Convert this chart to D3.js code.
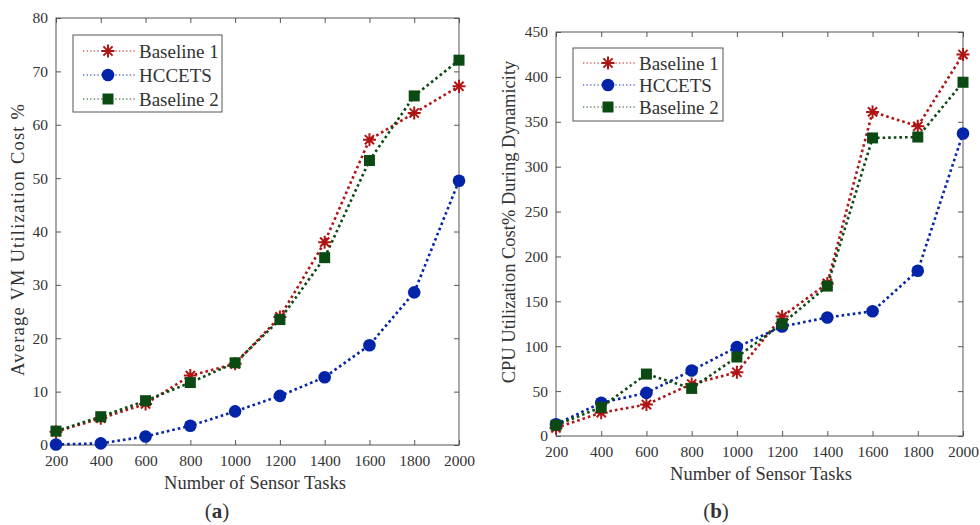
<!DOCTYPE html>
<html><head><meta charset="utf-8">
<script src="https://cdn.jsdelivr.net/npm/d3@7"></script>
<style>
body{margin:0;background:#fff;}
svg text{font-family:"Liberation Serif","DejaVu Serif",serif;fill:#333;}
</style></head>
<body><svg id="c" width="980" height="525"></svg>
<script>
const tasks = [200,400,600,800,1000,1200,1400,1600,1800,2000];
const xTicks = [200,400,600,800,1000,1200,1400,1600,1800,2000];
const seriesNames = ["Baseline 1","HCCETS","Baseline 2"];
const seriesColors = ["#b01515","#0324a8","#0b4a12"];
const seriesMarkers = ["asterisk","circle","square"];
// Chart (a): Average VM Utilization Cost %
const vmBaseline1 = [2.5,5.0,7.7,13.0,15.2,24.0,38.0,57.2,62.2,67.2];
const vmHCCETS    = [0.1,0.3,1.6,3.6,6.3,9.2,12.7,18.7,28.6,49.5];
const vmBaseline2 = [2.6,5.3,8.3,11.7,15.4,23.5,35.1,53.3,65.4,72.1];
const vmYTicks = [0,10,20,30,40,50,60,70,80];
// Chart (b): CPU Utilization Cost% During Dynamicity
const cpuBaseline1 = [9,26,35,58,71,133,170,361,345,425];
const cpuHCCETS    = [13,37,48,73,99,122,132,139,184,337];
const cpuBaseline2 = [12,32,69,53,88,125,167,332,333,394];
const cpuYTicks = [0,50,100,150,200,250,300,350,400,450];

const svg = d3.select("#c");

function marker(g, type, color, cx, cy){
  if(type==="circle"){
    g.append("circle").attr("cx",cx).attr("cy",cy).attr("r",6.3).attr("fill",color);
  } else if(type==="square"){
    g.append("rect").attr("x",cx-5.5).attr("y",cy-5.5).attr("width",11).attr("height",11).attr("fill",color);
  } else {
    const r=6.5;
    const p=[];
    [0,45,90,135].forEach(a=>{
      const t=a*Math.PI/180;
      p.push(`M${cx-r*Math.cos(t)},${cy-r*Math.sin(t)}L${cx+r*Math.cos(t)},${cy+r*Math.sin(t)}`);
    });
    g.append("path").attr("d",p.join("")).attr("stroke",color).attr("stroke-width",2).attr("fill","none");
  }
}

function chart(cfg){
  const g = svg.append("g");
  const x = d3.scaleLinear().domain([200,2000]).range([cfg.left,cfg.right]);
  const y = d3.scaleLinear().domain([cfg.yTicks[0],cfg.yTicks[cfg.yTicks.length-1]]).range([cfg.bottom,cfg.top]);
  const tl=5;
  g.append("rect").attr("x",cfg.left).attr("y",cfg.top).attr("width",cfg.right-cfg.left).attr("height",cfg.bottom-cfg.top)
    .attr("fill","none").attr("stroke","#555").attr("stroke-width",1);
  g.append("g").attr("transform",`translate(0,${cfg.bottom})`)
    .call(d3.axisBottom(x).tickValues(xTicks).tickSize(-tl).tickPadding(10).tickFormat(d3.format("d")))
    .call(a=>{a.select(".domain").remove();a.selectAll("line").attr("stroke","#555");a.selectAll("text").attr("font-size",15.5).attr("fill","#333").attr("font-family","Liberation Serif");});
  g.append("g").attr("transform",`translate(0,${cfg.top})`)
    .call(d3.axisTop(x).tickValues(xTicks).tickSize(-tl).tickFormat(""))
    .call(a=>{a.select(".domain").remove();a.selectAll("line").attr("stroke","#555");});
  g.append("g").attr("transform",`translate(${cfg.left},0)`)
    .call(d3.axisLeft(y).tickValues(cfg.yTicks).tickSize(-tl).tickPadding(8))
    .call(a=>{a.select(".domain").remove();a.selectAll("line").attr("stroke","#555");a.selectAll("text").attr("font-size",15.5).attr("fill","#333").attr("font-family","Liberation Serif");});
  g.append("g").attr("transform",`translate(${cfg.right},0)`)
    .call(d3.axisRight(y).tickValues(cfg.yTicks).tickSize(-tl).tickFormat(""))
    .call(a=>{a.select(".domain").remove();a.selectAll("line").attr("stroke","#555");});
  const line = d3.line().x((d,i)=>x(tasks[i])).y(d=>y(d));
  cfg.data.forEach((s,k)=>{
    g.append("path").datum(s).attr("d",line).attr("fill","none").attr("stroke",seriesColors[k])
      .attr("stroke-width",2.6).attr("stroke-dasharray","2.6,3");
  });
  cfg.data.forEach((s,k)=>{
    s.forEach((v,i)=>marker(g,seriesMarkers[k],seriesColors[k],x(tasks[i]),y(v)));
  });
  g.append("text").attr("x",cfg.xLabelX).attr("y",cfg.xLabelY).attr("text-anchor","middle")
    .attr("font-size",18.5).text("Number of Sensor Tasks");
  const yl = g.append("text").attr("transform",`translate(${cfg.yLabelX},${cfg.yLabelC}) rotate(-90)`)
    .attr("text-anchor","middle").attr("font-size",18.5).text(cfg.yLabel);
  if(cfg.yLabelLen) yl.attr("textLength",cfg.yLabelLen).attr("lengthAdjust","spacing");
  const pl = g.append("text").attr("x",cfg.panelX).attr("y",518).attr("text-anchor","middle").attr("font-size",21).attr("fill","#111");
  pl.append("tspan").text("(");
  pl.append("tspan").attr("font-weight","bold").text(cfg.panel);
  pl.append("tspan").text(")");
  const L=cfg.legend;
  g.append("rect").attr("x",L.x).attr("y",L.y).attr("width",L.w).attr("height",L.h).attr("fill","#fff").attr("stroke","#555").attr("stroke-width",1);
  seriesNames.forEach((n,k)=>{
    const yy=L.y+L.first+k*L.step;
    g.append("line").attr("x1",L.x+10).attr("x2",L.x+64).attr("y1",yy).attr("y2",yy)
      .attr("stroke",seriesColors[k]).attr("stroke-width",1.2).attr("stroke-dasharray","1.3,2.3");
    marker(g,seriesMarkers[k],seriesColors[k],L.x+35,yy);
    g.append("text").attr("x",L.x+66).attr("y",yy).attr("dy","0.35em").attr("font-size",19).attr("fill","#111").text(n);
  });
}

chart({left:56,right:459,top:18,bottom:445,yTicks:vmYTicks,data:[vmBaseline1,vmHCCETS,vmBaseline2],
  yLabel:"Average VM Utilization Cost %",yLabelX:24,yLabelC:240,yLabelLen:272,xLabelX:255,xLabelY:489,panelX:217,panel:"a",
  legend:{x:73,y:35,w:149,h:77,first:16,step:24}});
chart({left:556,right:963,top:32,bottom:436,yTicks:cpuYTicks,data:[cpuBaseline1,cpuHCCETS,cpuBaseline2],
  yLabel:"CPU Utilization Cost% During Dynamicity",yLabelX:515,yLabelC:222,xLabelX:761,xLabelY:480,panelX:716,panel:"b",
  legend:{x:573,y:48,w:150,h:73,first:15,step:22}});
</script></body></html>
